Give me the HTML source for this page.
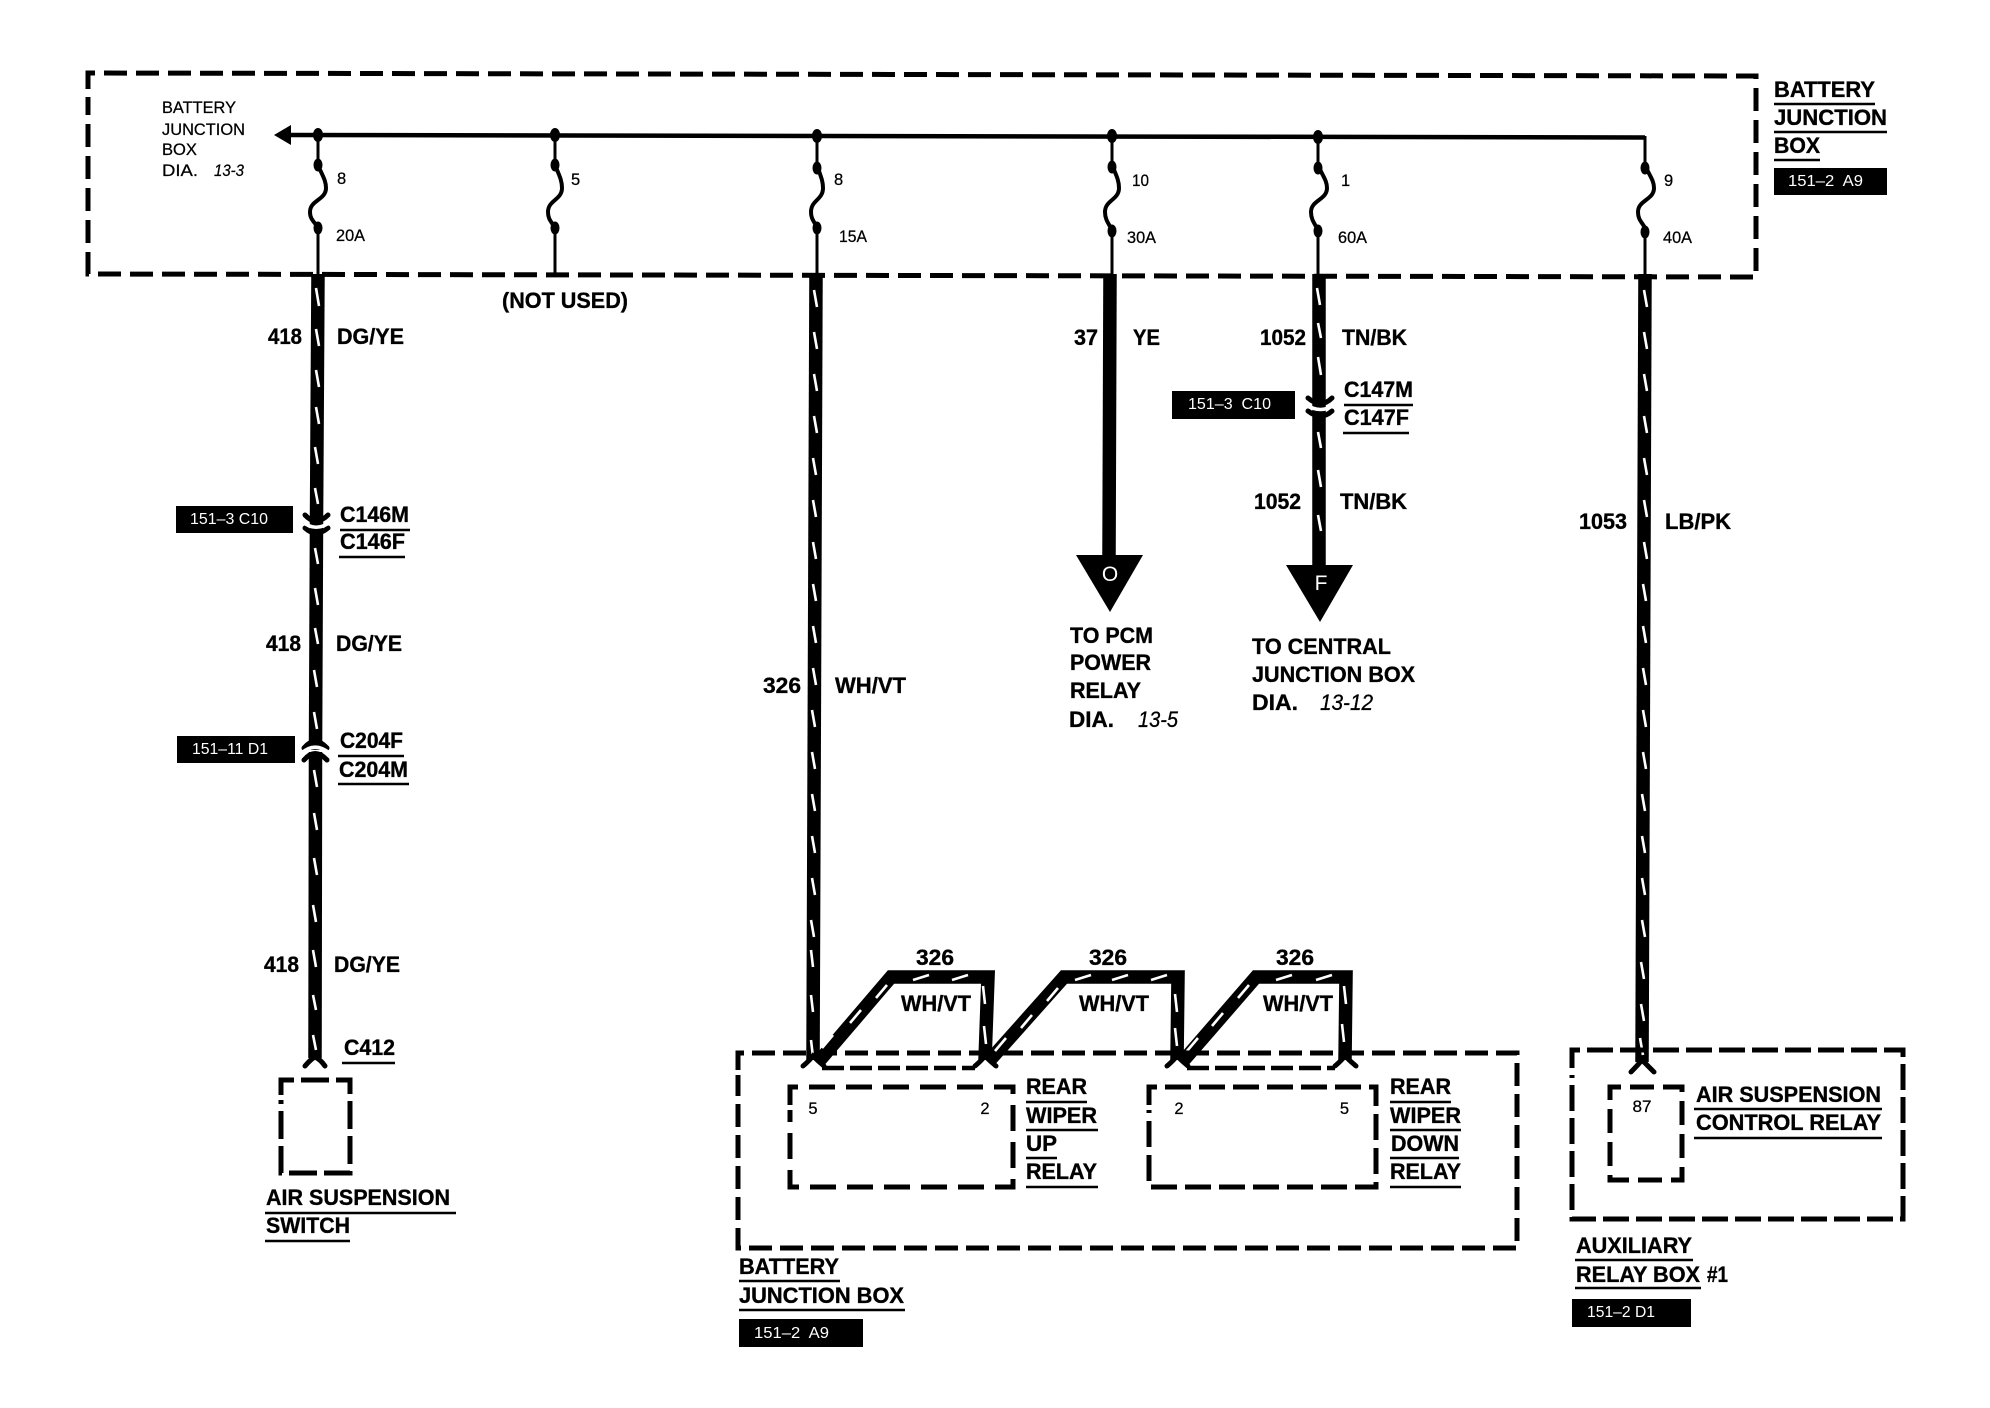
<!DOCTYPE html>
<html lang="en">
<head>
<meta charset="utf-8">
<title>Wiring diagram</title>
<style>
html,body{margin:0;padding:0;background:#fff}
svg{display:block}
text{font-family:"Liberation Sans",sans-serif;fill:#000}
.b{font-weight:700;font-size:22px;stroke:#000;stroke-width:.35}
.s{font-size:16.5px;stroke:#000;stroke-width:.25}
.i{font-style:italic;font-size:22px;stroke:#000;stroke-width:.3}
.is{font-style:italic;font-size:16.5px;stroke:#000;stroke-width:.25}
.w{fill:#fff;font-size:16px}
.box{fill:none;stroke:#000;stroke-width:5}
.u{stroke:#000;stroke-width:2.5;fill:none}
.wire{fill:none;stroke:#000;stroke-width:13.5;stroke-linejoin:miter}
.tr{fill:none;stroke:#fff;stroke-width:2.6}
.thin{fill:none;stroke:#000;stroke-width:3}
.fork{fill:none;stroke:#000;stroke-width:5;stroke-linecap:round}
</style>
</head>
<body>
<svg width="1990" height="1408" viewBox="0 0 1990 1408" xmlns="http://www.w3.org/2000/svg">
<rect width="1990" height="1408" fill="#fff"/>

<!-- top box -->
<path class="box" stroke-dasharray="23 9" d="M88 89V73L1756 76V277L88 274V97"/>

<!-- bus -->
<path d="M285 135L1645 137.5" stroke="#000" stroke-width="4.5" fill="none"/>
<path d="M274 135L291 125V145Z" fill="#000"/>
<path class="thin" d="M1645 136V165"/>
<ellipse cx="318" cy="135" rx="5" ry="7"/><ellipse cx="555" cy="135" rx="5" ry="7"/><ellipse cx="817" cy="136" rx="5" ry="7"/><ellipse cx="1112" cy="136" rx="5" ry="7"/><ellipse cx="1318" cy="137" rx="5" ry="7"/>

<!-- fuses -->
<g class="thin">
<path d="M318 135V165M318 228V276"/>
<path d="M555 135V165M555 228V274"/>
<path d="M817 135V165M817 228V276"/>
<path d="M1112 136V165M1112 230V276"/>
<path d="M1318 137V165M1318 230V276"/>
<path d="M1645 228V276"/>
</g>
<g fill="none" stroke="#000" stroke-width="4">
<path d="M318 165C322 175 326 180 326 188C326 200 310 200 310 212C310 220 315 222 318 228"/>
<path d="M555 165C559 175 562 180 562 188C562 200 548 200 548 212C548 220 552 222 555 228"/>
<path d="M817 165C820 175 823 180 823 188C823 200 811 200 811 212C811 220 815 222 817 228"/>
<path d="M1112 165C1116 175 1119 180 1119 188C1119 200 1105 200 1105 212C1105 220 1109 224 1112 230"/>
<path d="M1318 165C1322 175 1327 180 1327 188C1327 200 1311 200 1311 212C1311 220 1315 224 1318 230"/>
<path d="M1645 165C1649 175 1654 180 1654 188C1654 200 1638 200 1638 212C1638 220 1642 222 1645 228"/>
</g>
<g>
<ellipse cx="318" cy="165" rx="4.5" ry="6.5"/><ellipse cx="318" cy="228" rx="4.5" ry="6.5"/>
<ellipse cx="555" cy="165" rx="4.5" ry="6.5"/><ellipse cx="555" cy="228" rx="4.5" ry="6.5"/>
<ellipse cx="817" cy="168" rx="4.5" ry="6.5"/><ellipse cx="817" cy="228" rx="4.5" ry="6.5"/>
<ellipse cx="1112" cy="167" rx="4.5" ry="6.5"/><ellipse cx="1112" cy="231" rx="4.5" ry="6.5"/>
<ellipse cx="1318" cy="168" rx="4.5" ry="6.5"/><ellipse cx="1318" cy="231" rx="4.5" ry="6.5"/>
<ellipse cx="1645" cy="168" rx="4.5" ry="6.5"/><ellipse cx="1645" cy="232" rx="4.5" ry="6.5"/>
</g>

<!-- fuse labels -->
<text class="s" x="337" y="184">8</text>
<text class="s" x="336" y="241" textLength="29" lengthAdjust="spacingAndGlyphs">20A</text>
<text class="s" x="571" y="185">5</text>
<text class="s" x="834" y="185">8</text>
<text class="s" x="839" y="242" textLength="28" lengthAdjust="spacingAndGlyphs">15A</text>
<text class="s" x="1132" y="186" textLength="17" lengthAdjust="spacingAndGlyphs">10</text>
<text class="s" x="1127" y="243" textLength="29" lengthAdjust="spacingAndGlyphs">30A</text>
<text class="s" x="1341" y="186">1</text>
<text class="s" x="1338" y="243" textLength="29" lengthAdjust="spacingAndGlyphs">60A</text>
<text class="s" x="1664" y="186">9</text>
<text class="s" x="1663" y="243" textLength="29" lengthAdjust="spacingAndGlyphs">40A</text>

<text class="s" x="162" y="113" textLength="74" lengthAdjust="spacingAndGlyphs">BATTERY</text>
<text class="s" x="162" y="135" textLength="83" lengthAdjust="spacingAndGlyphs">JUNCTION</text>
<text class="s" x="162" y="155" textLength="35" lengthAdjust="spacingAndGlyphs">BOX</text>
<text class="s" x="162" y="176" textLength="36" lengthAdjust="spacingAndGlyphs">DIA.</text>
<text class="is" x="214" y="176" textLength="30" lengthAdjust="spacingAndGlyphs">13-3</text>

<text class="b" x="502" y="308" textLength="126" lengthAdjust="spacingAndGlyphs">(NOT USED)</text>

<!-- top right label -->
<text class="b" x="1774" y="97" textLength="101" lengthAdjust="spacingAndGlyphs">BATTERY</text>
<path class="u" d="M1774 104H1875"/>
<text class="b" x="1774" y="125" textLength="113" lengthAdjust="spacingAndGlyphs">JUNCTION</text>
<path class="u" d="M1774 132H1887"/>
<text class="b" x="1774" y="153" textLength="46" lengthAdjust="spacingAndGlyphs">BOX</text>
<path class="u" d="M1774 160H1820"/>
<rect x="1774" y="168" width="113" height="27"/>
<text class="w" x="1788" y="186" textLength="75" lengthAdjust="spacingAndGlyphs" xml:space="preserve">151–2  A9</text>

<!-- wire 418 -->
<path class="wire" d="M318 274L316.5 520"/>
<path class="wire" d="M316.5 522L315.5 750"/>
<path class="wire" d="M315.5 752L315 1058"/>
<path class="tr" d="M316 288l3 18M316 329l3 17M316 370l3 17M316 407l3 17M315 447l3 17M315 488l3 16M315 548l3 16M315 588l3 17M315 628l3 16M314 670l3 17M314 712l3 17M314 770l3 17M314 813l3 17M314 858l3 17M313 905l3 17M313 950l3 17M313 995l3 15M313 1035l3 15"/>

<!-- C146 -->
<path class="fork" d="M305 515Q316 527 328 515"/>
<path class="fork" d="M305 528Q316 538 328 528"/>
<path d="M302 521.5Q316 533 331 521.5" fill="none" stroke="#fff" stroke-width="3.5"/>
<!-- C204 -->
<path class="fork" d="M304 748Q315 735 327 748"/>
<path class="fork" d="M304 760Q315 747 327 760"/>
<path d="M301 753.5Q315 741 330 753.5" fill="none" stroke="#fff" stroke-width="3.5"/>
<!-- C412 fork -->
<path class="fork" d="M305 1066Q311 1059 315 1057Q320 1059 325 1066"/>

<text class="b" x="268" y="344" textLength="34" lengthAdjust="spacingAndGlyphs">418</text>
<text class="b" x="337" y="344" textLength="67" lengthAdjust="spacingAndGlyphs">DG/YE</text>
<text class="b" x="340" y="522" textLength="69" lengthAdjust="spacingAndGlyphs">C146M</text>
<path class="u" d="M340 530H410"/>
<text class="b" x="340" y="549" textLength="65" lengthAdjust="spacingAndGlyphs">C146F</text>
<path class="u" d="M339 557H405"/>
<rect x="176" y="506" width="117" height="27"/>
<text class="w" x="190" y="524" textLength="78" lengthAdjust="spacingAndGlyphs" xml:space="preserve">151–3 C10</text>
<text class="b" x="266" y="651" textLength="35" lengthAdjust="spacingAndGlyphs">418</text>
<text class="b" x="336" y="651" textLength="66" lengthAdjust="spacingAndGlyphs">DG/YE</text>
<text class="b" x="340" y="748" textLength="63" lengthAdjust="spacingAndGlyphs">C204F</text>
<path class="u" d="M338 756H404"/>
<text class="b" x="339" y="777" textLength="69" lengthAdjust="spacingAndGlyphs">C204M</text>
<path class="u" d="M338 784H409"/>
<rect x="177" y="736" width="118" height="27"/>
<text class="w" x="192" y="754" textLength="76" lengthAdjust="spacingAndGlyphs" xml:space="preserve">151–11 D1</text>
<text class="b" x="264" y="972" textLength="35" lengthAdjust="spacingAndGlyphs">418</text>
<text class="b" x="334" y="972" textLength="66" lengthAdjust="spacingAndGlyphs">DG/YE</text>
<text class="b" x="344" y="1055" textLength="51" lengthAdjust="spacingAndGlyphs">C412</text>
<path class="u" d="M342 1063H395"/>
<path class="box" stroke-dasharray="28 7" d="M281 1095V1080H350V1173H281V1100"/>
<text class="b" x="266" y="1205" textLength="184" lengthAdjust="spacingAndGlyphs">AIR SUSPENSION</text>
<path class="u" d="M265 1213H456"/>
<text class="b" x="266" y="1233" textLength="84" lengthAdjust="spacingAndGlyphs">SWITCH</text>
<path class="u" d="M265 1241H350"/>

<!-- wire 326 -->
<path class="wire" d="M816 274L813 1060"/>
<path class="tr" d="M814 290l3 17M814 332l3 17M814 374l3 17M814 416l3 17M813 458l3 17M813 500l3 17M813 542l3 17M813 584l3 17M813 626l3 17M813 668l3 17M812 710l3 17M812 752l3 17M812 794l3 17M812 836l3 17M812 878l3 17M811 920l3 17M811 950l2 17M811 995l2 17M811 1040l2 17"/>
<text class="b" x="763" y="693" textLength="38" lengthAdjust="spacingAndGlyphs">326</text>
<text class="b" x="835" y="693" textLength="71" lengthAdjust="spacingAndGlyphs">WH/VT</text>

<!-- jumpers -->
<path class="wire" d="M820 1060L891 977H988L985 1060"/>
<path class="wire" d="M990 1060L1064 977H1178L1177 1060"/>
<path class="wire" d="M1184 1060L1256 977H1346L1345 1060"/>
<path class="tr" d="M913 980l16-5M952 980l16-5M1075 980l16-5M1112 980l16-5M1151 980l16-5M1276 980l16-5M1316 980l16-5"/>
<path class="tr" d="M876 998l11-13M850 1023l11-13M822 1048l11-13M1047 1001l11-13M1021 1028l11-13M995 1051l11-13M1238 998l11-13M1212 1026l11-13M1187 1051l11-13"/>
<path class="tr" d="M983 986l2 18M984 1026l2 18M1175 994l2 18M1175 1028l2 18M1344 986l2 18M1342 1024l2 18"/>
<text class="b" x="916" y="965" textLength="38" lengthAdjust="spacingAndGlyphs">326</text>
<text class="b" x="1089" y="965" textLength="38" lengthAdjust="spacingAndGlyphs">326</text>
<text class="b" x="1276" y="965" textLength="38" lengthAdjust="spacingAndGlyphs">326</text>
<text class="b" x="901" y="1011" textLength="70" lengthAdjust="spacingAndGlyphs">WH/VT</text>
<text class="b" x="1079" y="1011" textLength="70" lengthAdjust="spacingAndGlyphs">WH/VT</text>
<text class="b" x="1263" y="1011" textLength="70" lengthAdjust="spacingAndGlyphs">WH/VT</text>

<!-- wire 37 -->
<path class="wire" d="M1110 274L1109 556"/>
<path d="M1076 555H1143L1110 612Z" fill="#000"/>
<text x="1110" y="581" text-anchor="middle" style="font-size:21px;fill:#fff">O</text>
<text class="b" x="1074" y="345" textLength="24" lengthAdjust="spacingAndGlyphs">37</text>
<text class="b" x="1133" y="345" textLength="27" lengthAdjust="spacingAndGlyphs">YE</text>
<text class="b" x="1070" y="643" textLength="83" lengthAdjust="spacingAndGlyphs">TO PCM</text>
<text class="b" x="1070" y="670" textLength="81" lengthAdjust="spacingAndGlyphs">POWER</text>
<text class="b" x="1070" y="698" textLength="71" lengthAdjust="spacingAndGlyphs">RELAY</text>
<text class="b" x="1069" y="727" textLength="45" lengthAdjust="spacingAndGlyphs">DIA.</text>
<text class="i" x="1138" y="727" textLength="40" lengthAdjust="spacingAndGlyphs">13-5</text>

<!-- wire 1052 -->
<path class="wire" d="M1319 274L1319 565"/>
<path d="M1286 565H1353L1320 622Z" fill="#000"/>
<text x="1321" y="590" text-anchor="middle" style="font-size:21px;fill:#fff">F</text>
<path class="tr" d="M1317 288l3 17M1318 323l3 15M1318 357l3 18M1318 432l3 16M1318 470l3 17M1318 515l3 16"/>
<path class="fork" d="M1308 398Q1321 409 1332 398"/>
<path class="fork" d="M1308 411Q1321 421 1332 411"/>
<path d="M1305 404Q1321 415 1335 404" fill="none" stroke="#fff" stroke-width="3.5"/>
<text class="b" x="1260" y="345" textLength="46" lengthAdjust="spacingAndGlyphs">1052</text>
<text class="b" x="1342" y="345" textLength="65" lengthAdjust="spacingAndGlyphs">TN/BK</text>
<text class="b" x="1344" y="397" textLength="69" lengthAdjust="spacingAndGlyphs">C147M</text>
<path class="u" d="M1344 405H1413"/>
<text class="b" x="1344" y="425" textLength="65" lengthAdjust="spacingAndGlyphs">C147F</text>
<path class="u" d="M1343 433H1409"/>
<rect x="1172" y="391" width="123" height="28"/>
<text class="w" x="1188" y="409" textLength="83" lengthAdjust="spacingAndGlyphs" xml:space="preserve">151–3  C10</text>
<text class="b" x="1254" y="509" textLength="47" lengthAdjust="spacingAndGlyphs">1052</text>
<text class="b" x="1340" y="509" textLength="67" lengthAdjust="spacingAndGlyphs">TN/BK</text>
<text class="b" x="1252" y="654" textLength="139" lengthAdjust="spacingAndGlyphs">TO CENTRAL</text>
<text class="b" x="1252" y="682" textLength="163" lengthAdjust="spacingAndGlyphs">JUNCTION BOX</text>
<text class="b" x="1252" y="710" textLength="46" lengthAdjust="spacingAndGlyphs">DIA.</text>
<text class="i" x="1320" y="710" textLength="53" lengthAdjust="spacingAndGlyphs">13-12</text>

<!-- wire 1053 -->
<path class="wire" d="M1645 274L1642 1062"/>
<path class="tr" d="M1644 290l3 17M1644 332l3 17M1644 374l3 17M1644 416l3 17M1644 458l3 17M1644 500l3 17M1644 542l3 17M1643 584l3 17M1643 626l3 17M1643 668l3 17M1643 710l3 17M1643 752l3 17M1642 794l3 17M1642 836l3 17M1642 878l3 17M1642 920l3 17M1641 962l3 17M1641 1004l3 17M1640 1038l3 17"/>
<path class="fork" d="M1631 1072Q1637 1066 1642 1060Q1648 1066 1654 1072"/>
<text class="b" x="1579" y="529" textLength="48" lengthAdjust="spacingAndGlyphs">1053</text>
<text class="b" x="1665" y="529" textLength="66" lengthAdjust="spacingAndGlyphs">LB/PK</text>

<!-- big relay box -->
<path class="box" stroke-dasharray="23 8" d="M738 1070V1053H1517V1248H738V1075"/>
<path class="box" stroke-dasharray="26 11" d="M790 1105V1087H1013V1187H790V1110"/>
<path class="box" stroke-dasharray="26 8" d="M1149 1105V1087H1376V1187H1149V1110"/>
<path d="M822 1068H975M1187 1068H1335" stroke="#000" stroke-width="4.5" stroke-dasharray="22 6" fill="none"/>
<path class="fork" d="M803 1066Q809 1061 813 1056Q818 1061 824 1066"/>
<path class="fork" d="M975 1066Q981 1061 985 1056Q990 1061 996 1066"/>
<path class="fork" d="M1167 1066Q1173 1061 1177 1056Q1182 1061 1188 1066"/>
<path class="fork" d="M1335 1066Q1341 1061 1345 1056Q1350 1061 1356 1066"/>
<text class="s" x="813" y="1114" text-anchor="middle">5</text>
<text class="s" x="985" y="1114" text-anchor="middle">2</text>
<text class="s" x="1179" y="1114" text-anchor="middle">2</text>
<text class="s" x="1344.5" y="1114" text-anchor="middle">5</text>

<text class="b" x="1026" y="1094" textLength="61" lengthAdjust="spacingAndGlyphs">REAR</text>
<path class="u" d="M1026 1102H1087"/>
<text class="b" x="1026" y="1123" textLength="71" lengthAdjust="spacingAndGlyphs">WIPER</text>
<path class="u" d="M1026 1130H1098"/>
<text class="b" x="1026" y="1151" textLength="31" lengthAdjust="spacingAndGlyphs">UP</text>
<path class="u" d="M1026 1158H1057"/>
<text class="b" x="1026" y="1179" textLength="71" lengthAdjust="spacingAndGlyphs">RELAY</text>
<path class="u" d="M1026 1187H1098"/>

<text class="b" x="1390" y="1094" textLength="61" lengthAdjust="spacingAndGlyphs">REAR</text>
<path class="u" d="M1390 1102H1451"/>
<text class="b" x="1390" y="1123" textLength="71" lengthAdjust="spacingAndGlyphs">WIPER</text>
<path class="u" d="M1390 1130H1461"/>
<text class="b" x="1391" y="1151" textLength="68" lengthAdjust="spacingAndGlyphs">DOWN</text>
<path class="u" d="M1390 1158H1459"/>
<text class="b" x="1390" y="1179" textLength="71" lengthAdjust="spacingAndGlyphs">RELAY</text>
<path class="u" d="M1390 1187H1461"/>

<text class="b" x="739" y="1274" textLength="100" lengthAdjust="spacingAndGlyphs">BATTERY</text>
<path class="u" d="M739 1281H840"/>
<text class="b" x="739" y="1303" textLength="165" lengthAdjust="spacingAndGlyphs">JUNCTION BOX</text>
<path class="u" d="M739 1310H905"/>
<rect x="739" y="1319" width="124" height="28"/>
<text class="w" x="754" y="1338" textLength="75" lengthAdjust="spacingAndGlyphs" xml:space="preserve">151–2  A9</text>

<!-- aux box -->
<path class="box" stroke-dasharray="26 7" d="M1572 1068V1050H1903V1219H1572V1075"/>
<path class="box" stroke-dasharray="24 9" d="M1610 1100V1087H1682V1180H1610V1105"/>
<text class="s" x="1642" y="1112" text-anchor="middle" textLength="19" lengthAdjust="spacingAndGlyphs">87</text>
<text class="b" x="1696" y="1102" textLength="185" lengthAdjust="spacingAndGlyphs">AIR SUSPENSION</text>
<path class="u" d="M1694 1109H1882"/>
<text class="b" x="1696" y="1130" textLength="185" lengthAdjust="spacingAndGlyphs">CONTROL RELAY</text>
<path class="u" d="M1694 1138H1882"/>
<text class="b" x="1576" y="1253" textLength="116" lengthAdjust="spacingAndGlyphs">AUXILIARY</text>
<path class="u" d="M1575 1260H1693"/>
<text class="b" x="1576" y="1282" textLength="124" lengthAdjust="spacingAndGlyphs">RELAY BOX</text>
<text class="b" x="1707" y="1282" textLength="21" lengthAdjust="spacingAndGlyphs">#1</text>
<path class="u" d="M1575 1288H1701"/>
<rect x="1572" y="1299" width="119" height="28"/>
<text class="w" x="1587" y="1317" textLength="68" lengthAdjust="spacingAndGlyphs" xml:space="preserve">151–2 D1</text>
</svg>
</body>
</html>
